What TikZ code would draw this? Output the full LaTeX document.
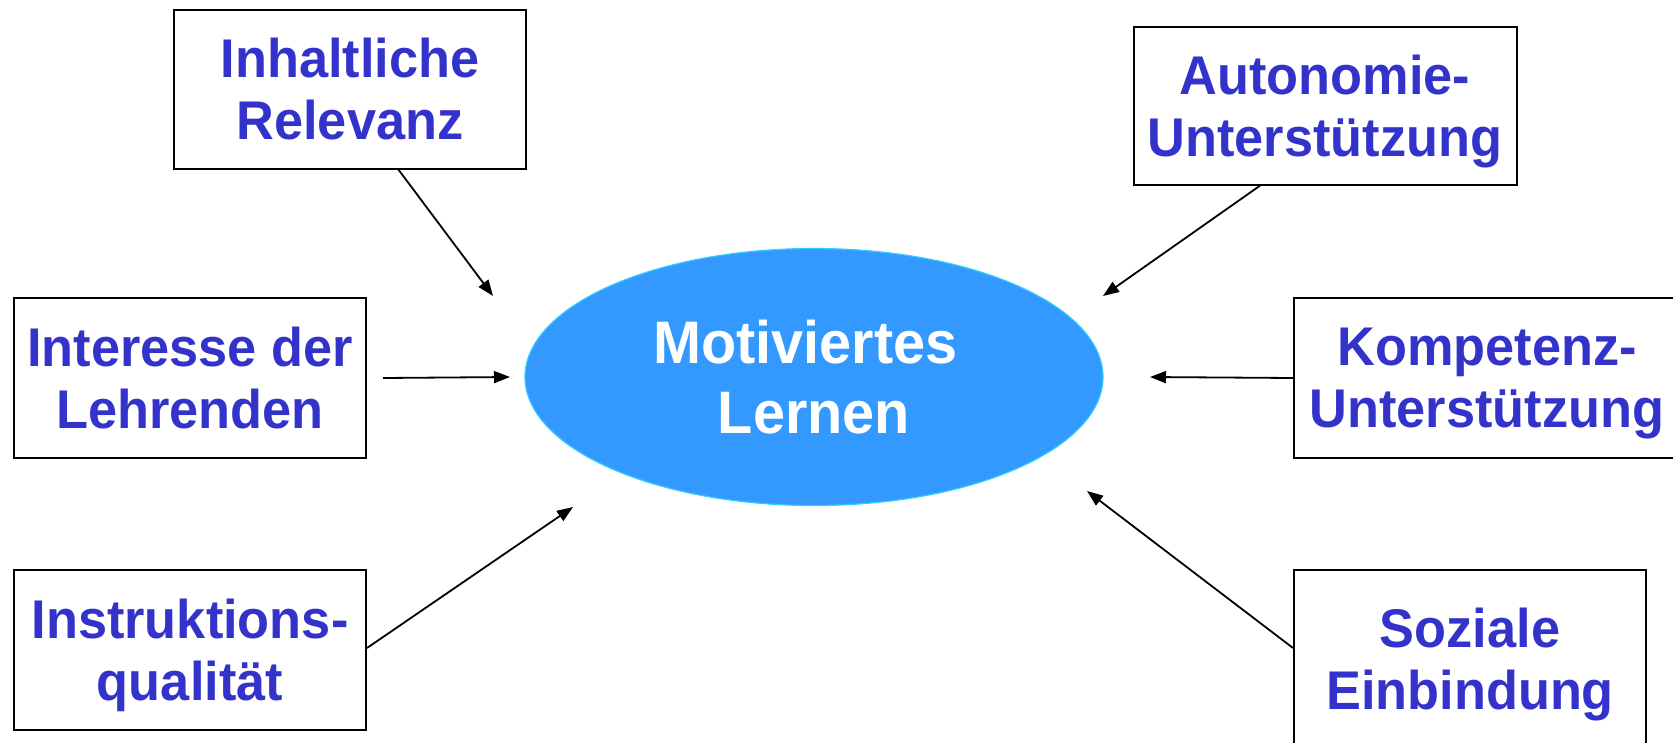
\documentclass[tikz,border=0pt]{standalone}
\usepackage{fontspec}
\setmainfont{Liberation Sans}[FakeStretch=0.96]
\usetikzlibrary{shapes.geometric,arrows.meta}
\definecolor{txtblue}{HTML}{3333CC}
\definecolor{ellfill}{HTML}{3399FF}
\definecolor{ellline}{HTML}{33CCFF}
\tikzset{
  box/.style={draw=black, line width=2pt, fill=white, rectangle, inner sep=0pt, text depth=0pt,
    text=txtblue, align=center, font=\fontsize{54.5}{62}\selectfont\bfseries},
  arr/.style={draw=black, line width=1.8pt, -{Triangle[length=16pt,width=12pt]}},
}
\begin{document}
\begin{tikzpicture}[x=1pt,y=-1pt]
\useasboundingbox (0,0) rectangle (1673,742);
% central ellipse
\node[ellipse, fill=ellfill, draw=ellline, line width=1.2pt, minimum width=578pt, minimum height=257pt,
  text=white, align=center, font=\fontsize{60}{70}\selectfont\bfseries, inner sep=0pt] (ml) at (814,377) {Motiviertes\kern17pt\\Lernen};
% boxes
\node[box, minimum width=352pt, minimum height=159pt] (ir) at (350,89) {Inhaltliche\\Relevanz};
\node[box, minimum width=352pt, minimum height=160pt] (il) at (190,378) {Interesse der\\Lehrenden};
\node[box, minimum width=352pt, minimum height=160pt] (iq) at (190,650) {Instruktions-\\qualität};
\node[box, minimum width=383pt, minimum height=158pt] (au) at (1325,105.5) {Autonomie-\\Unterstützung};
\node[box, minimum width=386pt, minimum height=160pt] (ko) at (1487,378) {Kompetenz-\\Unterstützung};
\node[box, minimum width=352pt, minimum height=178pt] (so) at (1470,659) {Soziale\\Einbindung};
% arrow tips
\coordinate (t1) at (493,296);
\coordinate (t2) at (510,377);
\coordinate (t3) at (573,507);
\coordinate (t4) at (1103,296);
\coordinate (t5) at (1150,377);
\coordinate (t6) at (1087,491);
% connectors
\draw[arr] (ir.-59) -- (t1);
\draw[arr] ([xshift=16pt]il.east) -- (t2);
\draw[arr] ([yshift=2pt]iq.east) -- (t3);
\draw[arr] (au.231) -- (t4);
\draw[arr] (ko.west) -- (t5);
\draw[arr] ([yshift=11pt]so.west) -- (t6);
\end{tikzpicture}
\end{document}
